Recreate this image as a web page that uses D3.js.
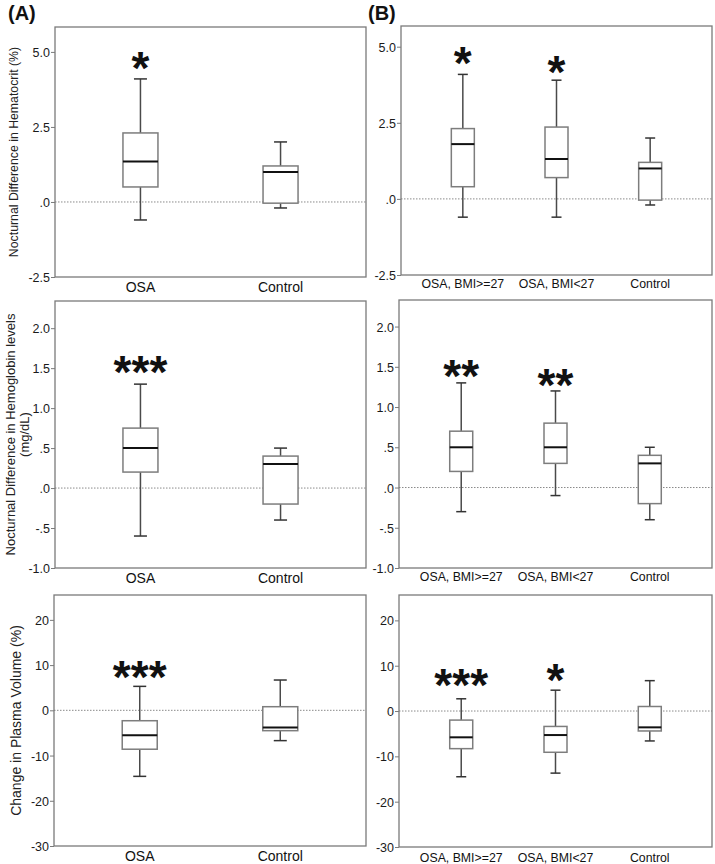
<!DOCTYPE html>
<html><head><meta charset="utf-8">
<script src="https://cdn.jsdelivr.net/npm/d3@7"></script>
<style>body{margin:0;background:#fff}svg{display:block}text{font-family:Arial,"Liberation Sans",sans-serif}</style>
</head><body><svg id="c" width="715" height="864"></svg>
<script>
// ---------- data ----------
const catsA = ["OSA", "Control"];
const catsB = ["OSA, BMI>=27", "OSA, BMI<27", "Control"];
// box stats: [lowerWhisker, Q1, median, Q3, upperWhisker]
const hctA = [[-0.6, 0.5, 1.35, 2.3, 4.1], [-0.2, -0.04, 1.0, 1.2, 2.0]];
const hctB = [[-0.6, 0.4, 1.8, 2.31, 4.09], [-0.6, 0.7, 1.31, 2.36, 3.9], [-0.2, -0.04, 1.0, 1.2, 2.0]];
const hgbA = [[-0.6, 0.2, 0.5, 0.75, 1.3], [-0.4, -0.2, 0.3, 0.4, 0.5]];
const hgbB = [[-0.3, 0.2, 0.5, 0.7, 1.3], [-0.1, 0.3, 0.5, 0.8, 1.2], [-0.4, -0.2, 0.3, 0.4, 0.5]];
const pvA = [[-14.6, -8.6, -5.5, -2.3, 5.3], [-6.7, -4.5, -3.8, 0.8, 6.7]];
const pvB = [[-14.5, -8.3, -5.8, -2.0, 2.7], [-13.7, -9.1, -5.3, -3.4, 4.6], [-6.6, -4.4, -3.6, 1.0, 6.7]];
// significance marks: [category index, stars, value at mark centre]
const starsHctA = [[0, "*", 4.84]];
const starsHctB = [[0, "*", 4.84], [1, "*", 4.54]];
const starsHgbA = [[0, "***", 1.59]];
const starsHgbB = [[0, "**", 1.52], [1, "**", 1.41]];
const starsPvA = [[0, "***", 9.9]];
const starsPvB = [[0, "***", 8.1], [1, "*", 9.2]];
// tick values and labels
const ticksHct = [-2.5, 0, 2.5, 5.0];
const tickLabHct = ["-2.5", ".0", "2.5", "5.0"];
const ticksHgb = [-1.0, -0.5, 0, 0.5, 1.0, 1.5, 2.0];
const tickLabHgb = ["-1.0", "-.5", ".0", ".5", "1.0", "1.5", "2.0"];
const ticksPv = [-30, -20, -10, 0, 10, 20];
const tickLabPv = ["-30", "-20", "-10", "0", "10", "20"];
const yTitleHct = ["Nocturnal Difference in Hematocrit (%)"];
const yTitleHgb = ["Nocturnal Difference in Hemoglobin levels", "(mg/dL)"];
const yTitlePv = ["Change in Plasma Volume (%)"];

// ---------- layout ----------
const panels = [
  {cats: catsA, boxes: hctA, stars: starsHctA, ticks: ticksHct, labs: tickLabHct, dom: [-2.5, 5.83], x0: 55, x1: 366, y0: 27, y1: 277, pad: 0.61, bw: 35, cw: 13, xfs: 14, xoff: 15, title: yTitleHct, tfs: 12.3, tx: [14]},
  {cats: catsB, boxes: hctB, stars: starsHctB, ticks: ticksHct, labs: tickLabHct, dom: [-2.5, 5.68], x0: 401, x1: 712, y0: 26, y1: 275, pad: 0.66, bw: 23, cw: 10, xfs: 12.3, xoff: 12.5},
  {cats: catsA, boxes: hgbA, stars: starsHgbA, ticks: ticksHgb, labs: tickLabHgb, dom: [-1.0, 2.34], x0: 55, x1: 366, y0: 301, y1: 568, pad: 0.61, bw: 35, cw: 13, xfs: 14, xoff: 15, title: yTitleHgb, tfs: 13, tx: [10, 24]},
  {cats: catsB, boxes: hgbB, stars: starsHgbB, ticks: ticksHgb, labs: tickLabHgb, dom: [-1.0, 2.33], x0: 399, x1: 712, y0: 300, y1: 568, pad: 0.66, bw: 23, cw: 10, xfs: 12.3, xoff: 13},
  {cats: catsA, boxes: pvA, stars: starsPvA, ticks: ticksPv, labs: tickLabPv, dom: [-30, 25.5], x0: 54, x1: 366, y0: 595, y1: 846, pad: 0.61, bw: 35, cw: 13, xfs: 14, xoff: 15, title: yTitlePv, tfs: 14, tx: [16]},
  {cats: catsB, boxes: pvB, stars: starsPvB, ticks: ticksPv, labs: tickLabPv, dom: [-30, 25.6], x0: 399, x1: 712, y0: 595, y1: 847, pad: 0.66, bw: 23, cw: 10, xfs: 12.3, xoff: 14.5}
];

const svg = d3.select("#c");
const frameCol = "#7a7a7a";

panels.forEach(p => {
  const g = svg.append("g");
  const x = d3.scalePoint().domain(p.cats).range([p.x0, p.x1]).padding(p.pad);
  const y = d3.scaleLinear().domain(p.dom).range([p.y1, p.y0]);

  // y axis ticks
  const ax = d3.axisLeft(y).tickValues(p.ticks).tickSize(4).tickFormat((d, i) => p.labs[i]);
  const ag = g.append("g").attr("transform", `translate(${p.x0},0)`).call(ax);
  ag.select(".domain").remove();
  ag.selectAll(".tick line").attr("stroke", frameCol).attr("stroke-width", 1);
  ag.selectAll(".tick text").attr("font-size", 12.5).attr("fill", "#1a1a1a").attr("x", -5).attr("dy", "0.36em");

  // zero reference line
  g.append("line").attr("x1", p.x0).attr("x2", p.x1).attr("y1", y(0)).attr("y2", y(0))
    .attr("stroke", "#8a8a8a").attr("stroke-width", 1).attr("stroke-dasharray", "1.5,1.5");

  // boxes
  p.boxes.forEach((b, i) => {
    const cx = x(p.cats[i]);
    const bg = g.append("g");
    bg.append("line").attr("x1", cx).attr("x2", cx).attr("y1", y(b[4])).attr("y2", y(b[3])).attr("stroke", "#4a4a4a").attr("stroke-width", 1.5);
    bg.append("line").attr("x1", cx).attr("x2", cx).attr("y1", y(b[1])).attr("y2", y(b[0])).attr("stroke", "#4a4a4a").attr("stroke-width", 1.5);
    bg.append("line").attr("x1", cx - p.cw / 2).attr("x2", cx + p.cw / 2).attr("y1", y(b[4])).attr("y2", y(b[4])).attr("stroke", "#333").attr("stroke-width", 1.5);
    bg.append("line").attr("x1", cx - p.cw / 2).attr("x2", cx + p.cw / 2).attr("y1", y(b[0])).attr("y2", y(b[0])).attr("stroke", "#333").attr("stroke-width", 1.5);
    bg.append("rect").attr("x", cx - p.bw / 2).attr("width", p.bw).attr("y", y(b[3])).attr("height", y(b[1]) - y(b[3]))
      .attr("fill", "#fff").attr("stroke", "#7d7d7d").attr("stroke-width", 1.5);
    bg.append("line").attr("x1", cx - p.bw / 2).attr("x2", cx + p.bw / 2).attr("y1", y(b[2])).attr("y2", y(b[2])).attr("stroke", "#111").attr("stroke-width", 2);
  });

  // significance stars
  p.stars.forEach(s => {
    g.append("text").attr("x", x(p.cats[s[0]])).attr("y", y(s[2]) + 27).attr("text-anchor", "middle")
      .attr("font-size", 46).attr("font-weight", "bold").attr("fill", "#111").text(s[1]);
  });

  // frame
  g.append("rect").attr("x", p.x0).attr("y", p.y0).attr("width", p.x1 - p.x0).attr("height", p.y1 - p.y0)
    .attr("fill", "none").attr("stroke", frameCol).attr("stroke-width", 1.3);

  // category labels
  p.cats.forEach(c => {
    g.append("text").attr("x", x(c)).attr("y", p.y1 + p.xoff).attr("text-anchor", "middle")
      .attr("font-size", p.xfs).attr("fill", "#111").text(c);
  });

  // y title
  if (p.title) {
    const cy = (p.y0 + p.y1) / 2;
    p.title.forEach((t, i) => {
      g.append("text").attr("transform", `translate(${p.tx[i]},${cy}) rotate(-90)`).attr("text-anchor", "middle")
        .attr("dy", "0.35em").attr("font-size", p.tfs).attr("fill", "#222").text(t);
    });
  }
});

// panel letters
svg.append("text").attr("x", 8).attr("y", 20).attr("font-size", 20).attr("font-weight", "bold").attr("fill", "#111").text("(A)");
svg.append("text").attr("x", 368).attr("y", 20).attr("font-size", 20).attr("font-weight", "bold").attr("fill", "#111").text("(B)");
</script></body></html>
